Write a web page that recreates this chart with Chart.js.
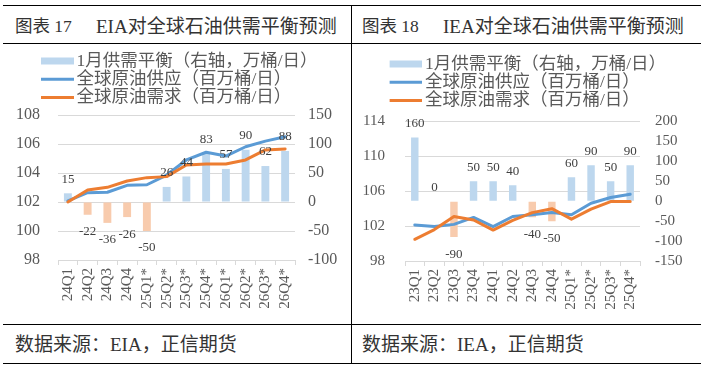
<!DOCTYPE html>
<html>
<head>
<meta charset="utf-8">
<script src="https://cdn.jsdelivr.net/npm/chart.js@4.4.1/dist/chart.umd.min.js"></script>
<style>
  body { margin: 0; background: #fff; }
  #page { position: relative; width: 704px; height: 370px; overflow: hidden; background: #fff;
          font-family: "Liberation Serif", "Noto Sans CJK SC", serif; color: #333; }
  .hline { position: absolute; left: 3px; width: 698px; height: 0; border-top: 1px solid #000; }
  .vline { position: absolute; left: 351px; top: 5px; height: 358px; width: 0; border-left: 1px solid #000; }
  .txt { position: absolute; white-space: nowrap; }
  canvas { position: absolute; top: 44px; }
</style>
</head>
<body>
<div id="page">
  <div class="hline" style="top:5px"></div>
  <div class="hline" style="top:43px"></div>
  <div class="hline" style="top:324px"></div>
  <div class="hline" style="top:363px"></div>
  <div class="vline"></div>

  <div class="txt" style="left:15px;top:8px;height:37px;line-height:37px;font-size:17.5px">图表 17</div>
  <div class="txt" style="left:96px;top:8px;height:37px;line-height:37px;font-size:19px">EIA对全球石油供需平衡预测</div>
  <div class="txt" style="left:362px;top:8px;height:37px;line-height:37px;font-size:17.5px">图表 18</div>
  <div class="txt" style="left:443px;top:8px;height:37px;line-height:37px;font-size:19px">IEA对全球石油供需平衡预测</div>

  <div class="txt" style="left:15px;top:326px;height:38px;line-height:38px;font-size:19px">数据来源：EIA，正信期货</div>
  <div class="txt" style="left:362px;top:326px;height:38px;line-height:38px;font-size:19px">数据来源：IEA，正信期货</div>

  <canvas id="eia" width="351" height="280" style="left:0px"></canvas>
  <canvas id="iea" width="351" height="280" style="left:353px"></canvas>
</div>
<script>
// EIA
const eiaQuarters = ['24Q1', '24Q2', '24Q3', '24Q4', '25Q1*', '25Q2*', '25Q3*', '25Q4*', '26Q1*', '26Q2*', '26Q3*', '26Q4*'];
const eiaBalance = [15, -22, -36, -26, -50, 26, 44, 83, 57, 90, 62, 88];
const eiaSupply = [102.08, 102.64, 102.67, 103.15, 103.19, 103.86, 104.9, 105.43, 105.17, 105.81, 106.2, 106.5];
const eiaDemand = [102.0, 102.83, 103.01, 103.45, 103.68, 103.75, 104.55, 104.62, 104.62, 104.9, 105.59, 105.66];

// IEA
const ieaQuarters = ['23Q1', '23Q2', '23Q3', '23Q4', '24Q1', '24Q2', '24Q3', '24Q4', '25Q1*', '25Q2*', '25Q3*', '25Q4*'];
const ieaBalance = [160, 0, -90, 50, 50, 40, -40, -50, 60, 90, 50, 90];
const ieaSupply = [102.14, 101.95, 102.2, 103.0, 101.95, 103.1, 103.3, 103.55, 103.3, 104.63, 105.28, 105.66];
const ieaDemand = [100.49, 101.6, 103.1, 102.7, 101.55, 102.65, 103.55, 104.0, 102.8, 103.94, 104.82, 104.82];

const seriesNames = ['1月供需平衡（右轴，万桶/日）', '全球原油供应（百万桶/日）', '全球原油需求（百万桶/日）'];

const barBlue = '#BDD7EE';
const barOrange = '#F8CBAD';
const lineBlue = '#5B9BD5';
const lineOrange = '#ED7D31';
const tickColor = '#595959';
const fontFamily = '"Liberation Serif", "Noto Sans CJK SC", serif';

// legend swatch images (bar block / line)
function swatch(color, h) {
    const c = document.createElement('canvas');
    c.width = 38;
    c.height = 11;
    const g = c.getContext('2d');
    g.fillStyle = color;
    g.fillRect(5, (11 - h) / 2, 33, h);
    return c;
}
const swatches = [swatch(barBlue, 7), swatch(lineBlue, 3), swatch(lineOrange, 3)];

// move legend block to where the original sits
const placeLegend = {
    id: 'placeLegend',
    afterLayout(chart, args, opts) {
        chart.legend.left = opts.left;
        chart.legend.top = opts.top;
    }
};

// value labels over / under bars
const barLabels = {
    id: 'barLabels',
    afterDatasetsDraw(chart) {
        const meta = chart.getDatasetMeta(0);
        const values = chart.data.datasets[0].data;
        const ctx = chart.ctx;
        ctx.save();
        ctx.font = '13px ' + fontFamily;
        ctx.fillStyle = '#404040';
        ctx.textAlign = 'center';
        ctx.textBaseline = 'middle';
        meta.data.forEach((bar, i) => {
            const v = values[i];
            ctx.fillText(String(v), bar.x, v < 0 ? bar.y + 17 : bar.y - 14);
        });
        ctx.restore();
    }
};

function makeChart(id, quarters, balance, supply, demand, s) {
    return new Chart(document.getElementById(id), {
        type: 'bar',
        data: {
            labels: quarters,
            datasets: [
                {
                    label: seriesNames[0],
                    data: balance,
                    yAxisID: 'y1',
                    backgroundColor: ctx => (ctx.raw < 0 ? barOrange : barBlue),
                    barPercentage: s.barPct,
                    categoryPercentage: 1,
                    order: 2
                },
                {
                    type: 'line',
                    label: seriesNames[1],
                    data: supply,
                    yAxisID: 'y',
                    borderColor: lineBlue,
                    backgroundColor: lineBlue,
                    borderWidth: 3,
                    pointRadius: 0,
                    tension: 0,
                    borderJoinStyle: 'round',
                    borderCapStyle: 'round',
                    order: 1
                },
                {
                    type: 'line',
                    label: seriesNames[2],
                    data: demand,
                    yAxisID: 'y',
                    borderColor: lineOrange,
                    backgroundColor: lineOrange,
                    borderWidth: 3,
                    pointRadius: 0,
                    tension: 0,
                    borderJoinStyle: 'round',
                    borderCapStyle: 'round',
                    order: 0
                }
            ]
        },
        options: {
            responsive: false,
            animation: false,
            events: [],
            layout: { padding: { top: s.padTop, left: 0, right: 0, bottom: 0 } },
            plugins: {
                tooltip: { enabled: false },
                placeLegend: { left: s.legendLeft, top: s.legendTop },
                legend: {
                    position: 'top',
                    align: 'start',
                    labels: {
                        usePointStyle: true,
                        pointStyleWidth: 26,
                        boxHeight: 10,
                        padding: 0.75,
                        color: tickColor,
                        font: { family: fontFamily, size: 17.5 },
                        generateLabels: chart => Chart.defaults.plugins.legend.labels.generateLabels(chart)
                            .sort((a, b) => a.datasetIndex - b.datasetIndex)
                            .map(it => Object.assign(it, { pointStyle: swatches[it.datasetIndex] }))
                    }
                }
            },
            scales: {
                x: {
                    offset: true,
                    grid: { display: true, offset: true, drawOnChartArea: false, drawTicks: true, tickLength: 5, color: '#D9D9D9' },
                    border: { display: true, color: '#D9D9D9' },
                    ticks: {
                        autoSkip: false, minRotation: 90, maxRotation: 90, padding: 3,
                        color: tickColor, font: { family: fontFamily, size: 15 }
                    },
                    afterFit: sc => { sc.height = s.xHeight; }
                },
                y: {
                    position: 'left',
                    min: s.yMin, max: s.yMax,
                    grid: { color: '#D9D9D9', drawTicks: false },
                    border: { display: false },
                    ticks: { autoSkip: false, stepSize: s.yStep, padding: s.yPad, color: tickColor, font: { family: fontFamily, size: s.tickSize } },
                    afterFit: sc => { sc.width = s.yWidth; }
                },
                y1: {
                    position: 'right',
                    min: s.y1Min, max: s.y1Max,
                    grid: { drawOnChartArea: false, drawTicks: false },
                    border: { display: false },
                    ticks: { autoSkip: false, stepSize: 50, padding: s.y1Pad, color: tickColor, font: { family: fontFamily, size: s.tickSize } },
                    afterFit: sc => { sc.width = s.y1Width; }
                }
            }
        },
        plugins: [placeLegend, barLabels]
    });
}

makeChart('eia', eiaQuarters, eiaBalance, eiaSupply, eiaDemand, {
    barPct: 0.4, padTop: 6.25, legendLeft: 41, legendTop: 7.5, xHeight: 64,
    yMin: 98, yMax: 108, yStep: 2, yPad: 18, yWidth: 58,
    y1Min: -100, y1Max: 150, y1Pad: 13, y1Width: 56, tickSize: 16
});

makeChart('iea', ieaQuarters, ieaBalance, ieaSupply, ieaDemand, {
    barPct: 0.38, padTop: 12.75, legendLeft: 36.5, legendTop: 10.5, xHeight: 63,
    yMin: 98, yMax: 114, yStep: 4, yPad: 20, yWidth: 52,
    y1Min: -150, y1Max: 200, y1Pad: 15, y1Width: 64, tickSize: 15
});
</script>
</body>
</html>
